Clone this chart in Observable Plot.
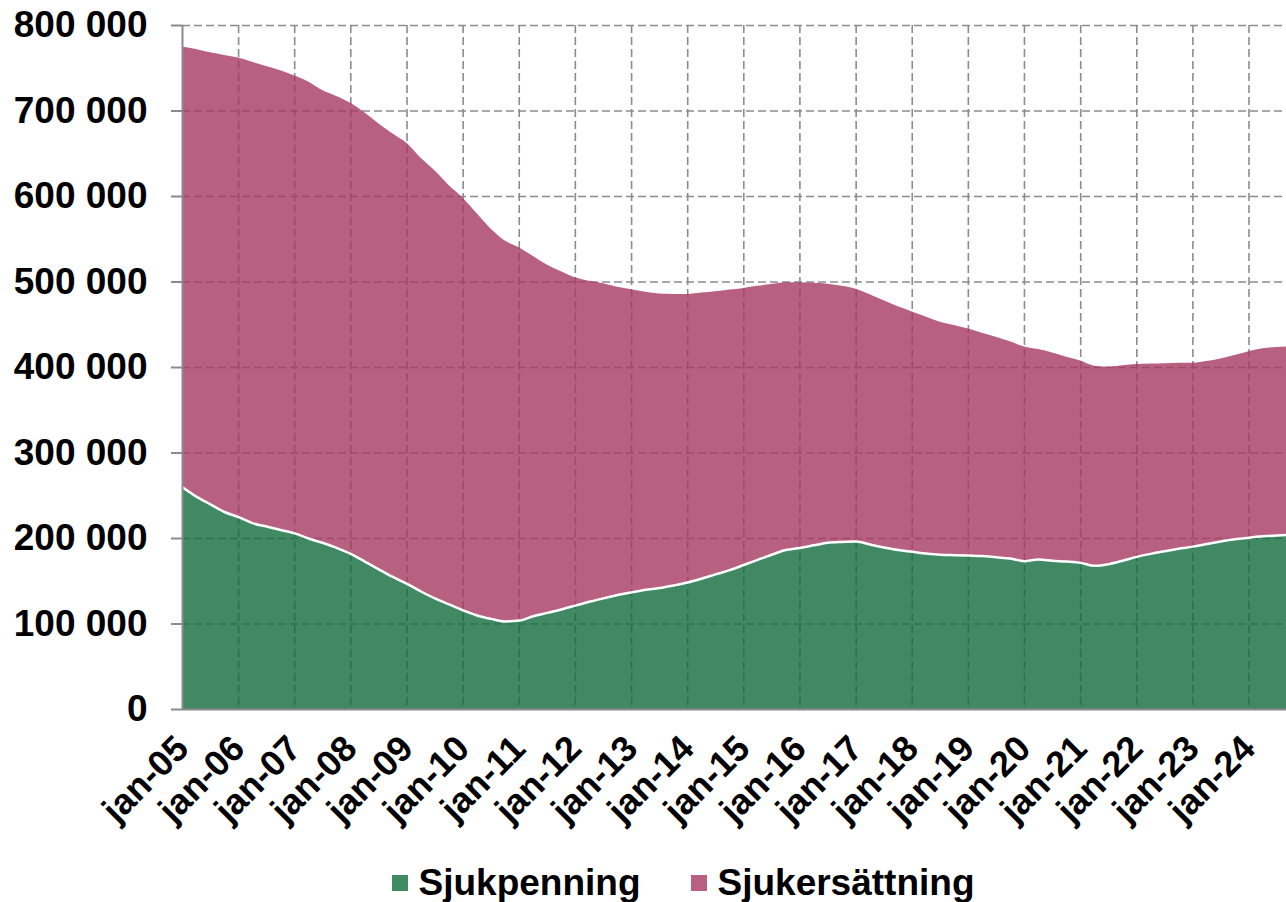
<!DOCTYPE html>
<html><head><meta charset="utf-8">
<script src="https://cdn.jsdelivr.net/npm/d3@7"></script>
<script src="https://cdn.jsdelivr.net/npm/@observablehq/plot@0.6"></script>
<style>
body{margin:0;background:#fff;font-family:"Liberation Sans",Arial,sans-serif;}
#wrap{position:relative;width:1286px;height:902px;overflow:hidden;}
#chart svg{display:block;overflow:visible;}
#legend{position:absolute;left:40px;width:1286px;top:863px;height:40px;display:flex;justify-content:center;align-items:center;font-weight:bold;font-size:37px;color:#000;}
.item{display:flex;align-items:center;margin:0 25px;}
.sw{width:16px;height:16px;margin-right:11px;}
</style></head>
<body><div id="wrap"><div id="chart"></div><div id="legend"></div></div>
<script>
const months = [
"2005-01","2005-04","2005-07","2005-10","2006-01","2006-04","2006-07","2006-10",
"2007-01","2007-04","2007-07","2007-10","2008-01","2008-04","2008-07","2008-10",
"2009-01","2009-04","2009-07","2009-10","2010-01","2010-04","2010-07","2010-10",
"2011-01","2011-04","2011-07","2011-10","2012-01","2012-04","2012-07","2012-10",
"2013-01","2013-04","2013-07","2013-10","2014-01","2014-04","2014-07","2014-10",
"2015-01","2015-04","2015-07","2015-10","2016-01","2016-04","2016-07","2016-10",
"2017-01","2017-04","2017-07","2017-10","2018-01","2018-04","2018-07","2018-10",
"2019-01","2019-04","2019-07","2019-10","2020-01","2020-04","2020-07","2020-10",
"2021-01","2021-04","2021-07","2021-10","2022-01","2022-04","2022-07","2022-10",
"2023-01","2023-04","2023-07","2023-10","2024-01","2024-04","2024-07","2024-09"];

const sjukpenning = [
260000,249000,240000,231000,225000,218000,214000,210000,
206000,200000,195000,189000,182000,173000,164000,155000,
147000,138000,130000,123000,116000,110000,106000,103000,
104000,109000,113000,117000,121500,126000,130000,134000,
137000,140000,142000,145000,148500,153000,158000,163000,
169000,175000,181000,186500,189000,192000,195000,196000,
196500,193000,189500,186500,184500,182500,181000,180500,
180000,179500,178000,176500,173500,175500,174000,173000,
171500,168000,170000,174000,178500,182000,185000,188000,
190500,193500,196500,199000,201000,202500,203500,204000];

const sjukersattning = [
515000,523000,528000,534000,537000,539000,538000,537000,
535000,534000,529000,528000,527000,525000,521000,518000,
515000,507000,500000,490000,482000,470000,456000,445000,
436000,421000,407000,395000,383500,375000,368000,360000,
354000,348000,344000,340500,337000,334000,330500,327500,
323500,320000,316000,312500,310000,306500,302500,299000,
295000,292000,288500,284500,280500,276500,272000,268500,
265000,260500,257500,253500,250500,245500,243000,239000,
236000,233500,230500,228000,225000,222000,219500,217000,
214500,213500,213500,215000,217500,219500,220000,220000];

const seriesNames = ["Sjukpenning","Sjukersättning"];
const seriesColors = ["#106C3C","#A6385F"];   // drawn at 0.8 opacity
const legendColors = ["#408A64","#B8607F"];
const yTicks = [0,100000,200000,300000,400000,500000,600000,700000,800000];
const xTickYears = ["2005","2006","2007","2008","2009","2010","2011","2012","2013","2014",
"2015","2016","2017","2018","2019","2020","2021","2022","2023","2024"];

const parse = d3.utcParse("%Y-%m");
const rows = [];
seriesNames.forEach((s, si) => {
  const vals = si === 0 ? sjukpenning : sjukersattning;
  months.forEach((m, i) => rows.push({date: parse(m), series: s, value: vals[i]}));
});
const greenRows = months.map((m, i) => ({date: parse(m), value: sjukpenning[i]}));
const xTicks = xTickYears.map(y => parse(y + "-01"));
const fmt = d => d3.format(",")(d).replace(/,/g, " ");
const gridStyle = {stroke: "#8c8c8c", strokeWidth: 1.6, strokeDasharray: "8,4", strokeOpacity: 1};

const chart = Plot.plot({
  width: 1286, height: 850,
  marginLeft: 182, marginRight: 0, marginTop: 25, marginBottom: 141,
  style: {fontFamily: "'Liberation Sans', Arial, sans-serif", background: "transparent"},
  x: {type: "utc", domain: [parse(months[0]), parse(months[months.length - 1])]},
  y: {domain: [0, 800000]},
  color: {domain: seriesNames, range: seriesColors},
  marks: [
    Plot.gridY(yTicks.slice(1), gridStyle),
    Plot.gridX(xTicks.slice(1), gridStyle),
    Plot.areaY(rows, {x: "date", y: "value", fill: "series", order: seriesNames, curve: "monotone-x", fillOpacity: 0.8}),
    Plot.lineY(greenRows, {x: "date", y: "value", stroke: "white", strokeWidth: 2.5, curve: "monotone-x"}),
    Plot.ruleX([parse(months[0])], {stroke: "#8a8a8a", strokeWidth: 2}),
    Plot.ruleY([0], {stroke: "#8a8a8a", strokeWidth: 2}),
    Plot.axisY(yTicks, {tickSize: 11, tickPadding: 24, tickFormat: fmt, fontSize: 37, fontWeight: "bold", stroke: "#8a8a8a", strokeWidth: 2, fill: "black", label: null}),
    Plot.axisX(xTicks, {tickSize: 0, tickPadding: 33, tickRotate: -45, tickFormat: d => "jan-" + String(d.getUTCFullYear()).slice(2), fontSize: 36, fontWeight: "bold", fill: "black", label: null})
  ]
});
document.getElementById("chart").appendChild(chart);

const legend = document.getElementById("legend");
seriesNames.forEach((s, i) => {
  const it = document.createElement("div");
  it.className = "item";
  const sw = document.createElement("div");
  sw.className = "sw";
  sw.style.background = legendColors[i];
  const tx = document.createElement("span");
  tx.textContent = s;
  it.appendChild(sw); it.appendChild(tx);
  legend.appendChild(it);
});
</script>
</body></html>
